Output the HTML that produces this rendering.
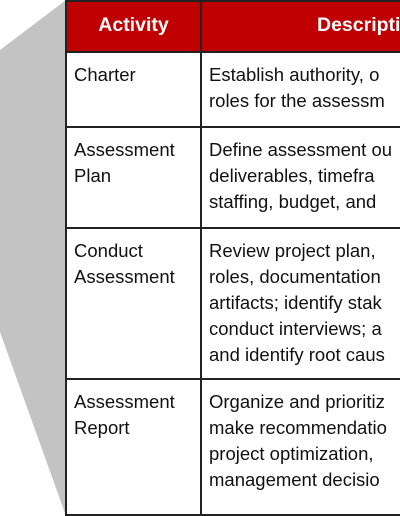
<!DOCTYPE html>
<html><head><style>
html,body{margin:0;width:400px;height:516px;overflow:hidden;background:#fff;font-family:"Liberation Sans",sans-serif;}
#wrap{position:absolute;left:0;top:0;width:400px;height:516px;overflow:hidden}
svg{position:absolute;left:0;top:0}
table{position:absolute;left:65px;top:0;border-collapse:collapse;table-layout:fixed;width:420px}
td,th{border:2px solid #222;vertical-align:top;padding:9px 7px 0 7px;font-size:18.5px;line-height:26px;color:#111;text-align:left;white-space:nowrap;overflow:hidden;box-sizing:border-box}
th{background:#c00000;color:#fff;font-weight:bold;text-align:center;height:51px;padding:10px 4px 0;font-size:19.5px}
</style></head><body>
<div id="wrap">
<svg width="400" height="516"><polygon points="66,0 0,50 0,332 66,516" fill="#c3c3c3"/></svg>
<table>
<colgroup><col style="width:135px"><col style="width:285px"></colgroup>
<tr><th>Activity</th><th style="text-align:left;padding-left:115px">Description</th></tr>
<tr style="height:75px"><td>Charter</td><td>Establish authority, o<br>roles for the assessm</td></tr>
<tr style="height:101px"><td>Assessment<br>Plan</td><td>Define assessment ou<br>deliverables, timefra<br>staffing, budget, and</td></tr>
<tr style="height:151px"><td>Conduct<br>Assessment</td><td>Review project plan, <br>roles, documentation<br>artifacts; identify stak<br>conduct interviews; a<br>and identify root caus</td></tr>
<tr style="height:136px"><td>Assessment<br>Report</td><td>Organize and prioritiz<br>make recommendatio<br>project optimization,<br>management decisio</td></tr>
</table>
</div>
</body></html>
